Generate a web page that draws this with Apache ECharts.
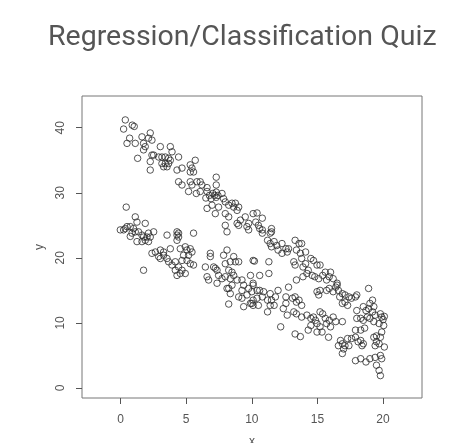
<!DOCTYPE html>
<html><head><meta charset="utf-8">
<script src="https://cdn.jsdelivr.net/npm/echarts@6/dist/echarts.min.js"></script>
<style>html,body{margin:0;padding:0;background:#fff}#c{width:453px;height:443px}</style>
</head><body><div id="c"></div>
<script>
const titleText = 'Regression/Classification Quiz';
const xName = 'x';
const yName = 'y';
const xTicks = [0, 5, 10, 15, 20];
const yTicks = [0, 10, 20, 30, 40];
const upperBand = [
[0.36,41.2],[0.23,39.8],[0.89,40.4],[1.04,40.2],[0.69,38.4],[0.49,37.6],[1.12,37.6],[1.63,38.6],[1.75,37.6],[1.88,37.1],[1.75,36.6],[2.26,39.2],[2.39,38.1],[2.13,38.4],[1.3,35.3],[2.39,35.8],[2.52,35.8],[2.26,34.8],[2.26,33.5],[3.03,37.1],[2.9,35.5],[3.15,35.5],[3.41,35.5],[3.15,34.5],[3.41,34.5],[3.66,34.5],[3.28,34.0],[3.54,34.0],[3.79,37.1],[3.92,36.3],[3.66,35.3],[3.79,35.0],[4.42,35.5],[4.3,33.5],[4.68,33.8],[5.31,34.3],[5.69,35.0],[5.44,33.8],[5.56,33.2],[5.31,33.2],[4.42,31.7],[4.68,31.2],[5.31,31.7],[5.44,31.2],[5.18,30.2],[5.82,31.7],[6.07,31.7],[6.2,31.2],[5.77,29.9],[6.07,30.2],[6.59,30.8],[6.59,30.2],[7.29,32.4],[7.29,31.2],[6.5,29.2],[6.77,29.6],[7.03,29.9],[7.16,29.6],[7.29,30.1],[7.42,29.6],[6.9,29.1],[7.29,29.3],[6.59,27.6],[6.97,28.1],[7.47,27.8],[7.73,29.9],[7.85,29.1],[7.98,28.6],[7.22,26.8],[8.24,28.1],[8.49,28.4],[8.62,27.8],[8.75,28.4],[9.0,27.8],[8.88,27.3],[7.98,26.8],[8.24,26.3],[7.98,25.0],[8.11,24.0],[8.88,25.3],[9.0,25.0],[9.13,25.8],[9.5,26.3],[9.63,24.8],[9.76,24.3],[9.76,25.3],[10.1,26.8],[10.3,25.5],
[10.4,26.9],[10.8,26.1],[10.5,25.0],[10.6,24.5],[10.8,24.3],[10.8,23.8],[11.5,24.5],[11.5,24.0],[11.4,23.8],[11.2,22.7],[11.4,22.2],[11.7,22.5],[11.9,21.9],[11.5,21.7],[12.0,21.2],[12.3,22.2],[12.6,21.4],[12.7,20.9],[12.3,20.7],[12.8,21.4],[13.3,22.7],[13.6,22.2],[13.8,22.2],[13.4,21.2],[13.7,20.7],[14.1,20.9],[13.2,19.4],[13.3,18.9],[13.8,19.9],[13.9,18.6],[14.1,19.1],[14.5,19.9],[14.7,19.6],[14.97,18.9],[15.2,18.9],[14.2,17.6],[14.3,18.1],[13.4,16.6],[13.9,17.1],[14.6,17.3],[14.8,17.1],[15.1,16.8],[15.4,17.3],[15.6,17.8],[16.0,17.8],[15.9,17.1],[15.7,16.6],[16.2,16.8],[16.5,16.1],[16.4,15.5],[14.97,14.8],[15.1,14.3],[15.2,15.0],[15.7,15.0],[15.9,15.3],[16.2,14.8],[16.5,15.8],[16.6,15.0],[16.9,14.5],[17.1,14.3],[17.4,14.0],[17.6,13.8],[17.9,14.0],[18.0,14.3],[16.7,14.0],[17.1,13.2],[16.9,13.0],[17.3,12.7],[18.9,15.3],[19.2,13.5],[19.0,13.0],[19.3,12.5],[18.9,12.2],[19.2,11.7],[19.4,11.2],[19.8,11.4],[19.9,10.9],[18.5,12.5],[18.7,11.9],[18.0,11.9],[18.0,10.7],[18.3,10.7],[18.5,10.4],[18.8,10.9],[19.0,10.7],[19.3,10.2],[19.7,9.9],[20.05,9.6],[20.1,11.0],[20.0,10.5]
];
const lowerBand = [
[0.43,27.8],[1.12,26.3],[1.25,25.5],[1.88,25.3],[0.49,24.8],[0.74,24.8],[0.36,24.5],[-0.02,24.3],[0.23,24.3],[0.99,24.5],[1.12,24.0],[0.87,23.8],[0.74,23.3],[1.37,24.0],[1.63,23.5],[1.75,23.2],[2.01,23.2],[2.26,23.2],[2.13,23.8],[2.52,24.0],[3.54,23.5],[4.3,23.5],[4.42,23.8],[4.3,22.7],[5.56,23.8],[1.25,22.5],[1.63,22.5],[1.88,22.7],[2.13,22.5],
[1.75,18.1],[2.39,20.7],[2.65,20.9],[3.03,21.2],[3.28,20.9],[3.28,20.4],[2.9,20.2],[3.03,19.9],[3.79,21.4],[3.54,19.9],[3.66,19.4],[3.92,18.9],[4.17,18.1],[4.3,17.3],[4.55,17.6],[4.68,18.1],[4.93,17.6],[4.42,18.6],[4.17,19.4],[4.55,21.4],[4.93,21.7],[5.06,21.2],[5.31,21.4],[5.44,20.9],[5.18,20.4],[4.8,20.4],[4.68,19.6],[5.06,19.6],[5.31,19.1],[5.56,18.9],[4.3,24.0],[4.42,23.2],
[6.46,18.6],[6.59,17.1],[6.71,16.6],[6.84,20.7],[6.84,20.2],[7.09,18.6],[7.35,18.1],[7.47,17.3],[7.22,18.4],[7.35,16.1],[7.73,16.8],[7.98,17.1],[7.85,20.4],[8.11,21.2],[7.98,19.1],[8.36,19.4],[8.62,20.2],[8.75,19.4],[9.0,19.4],[8.49,17.8],[8.24,18.1],[8.36,16.8],[8.62,17.3],[8.88,16.6],[8.49,15.8],[8.24,15.3],[8.36,14.5],[8.11,15.3],[9.25,16.6],[9.38,15.8],[9.25,15.0],[9.0,14.0],[9.25,13.8],[9.63,14.3],[9.76,15.3],[9.38,12.5],[8.24,12.9],[10.1,16.1],[10.1,13.5],[10.0,13.0],[10.1,19.6],
[10.2,19.5],[11.3,19.4],[9.9,17.3],[10.6,17.3],[11.3,17.6],[10.1,15.8],
[10.0,14.8],[10.4,15.0],[10.6,15.0],[10.9,14.8],[10.8,14.0],[10.4,13.8],[9.89,13.0],[10.1,12.7],[10.5,12.7],[11.4,14.5],[11.2,13.5],[11.5,13.5],[11.8,14.0],[12.0,15.0],[11.4,12.7],[11.7,12.7],[11.2,11.7],[12.6,14.0],[12.6,13.0],[12.4,12.2],[12.8,15.5],[13.1,13.8],[13.3,14.0],[13.4,13.2],[13.6,13.5],[13.8,12.7],
[12.7,11.2],[13.2,11.7],[13.4,11.4],[13.8,10.9],[14.2,11.2],[14.5,10.7],[14.7,10.9],[14.85,10.4],[15.2,11.7],[15.4,11.4],[15.6,10.7],[15.9,10.4],[16.2,10.9],[16.4,10.2],[16.9,10.2],[12.2,9.4],[14.5,9.6],[14.97,9.9],[15.2,9.4],[16.0,9.4],[15.7,9.9],
[13.3,8.3],[13.7,7.9],[14.3,8.9],[14.97,8.6],[15.35,8.6],[15.85,7.8],
[16.76,7.3],[16.9,6.8],[17.1,6.5],[16.6,6.5],[17.0,6.0],[17.4,6.5],[17.3,7.6],[17.6,7.6],[17.9,7.8],[16.9,5.3],[18.1,7.1],[18.3,7.3],[18.5,6.8],[18.4,6.5],[17.9,4.2],[18.3,4.5],[18.7,4.0],[19.0,4.5],[19.4,4.7],[19.8,5.0],[19.9,4.5],[19.3,7.8],[19.5,8.0],[19.8,7.8],[19.9,8.6],[19.7,6.8],[20.1,6.3],[19.4,6.5],[19.5,7.1],[19.5,3.5],[19.7,2.7],[19.8,1.9],
[17.9,8.9],[18.3,8.9],[18.6,9.2]
];

const chart = echarts.init(document.getElementById('c'), null, {renderer: 'canvas'});
const inkColor = '#555';
const pointStyle = {color: 'rgba(0,0,0,0)', borderColor: '#2a2a2a', borderWidth: 1};
chart.setOption({
  animation: false,
  backgroundColor: '#fff',
  title: {
    text: titleText, left: 43, top: 18,
    textStyle: {fontFamily: 'Roboto', fontWeight: 'normal', fontSize: 28.5, color: '#555'}
  },
  grid: {left: 82, right: 31, top: 96, bottom: 45, show: true, borderColor: '#777', borderWidth: 1,
         backgroundColor: 'transparent', containLabel: false, outerBoundsMode: 'none'},
  xAxis: {
    type: 'value', min: -2.94, max: 22.97,
    name: xName, nameLocation: 'middle', nameGap: 38,
    nameTextStyle: {fontFamily: 'Liberation Sans', fontSize: 12, color: inkColor},
    axisLine: {show: false, onZero: false},
    splitLine: {show: false},
    axisTick: {show: true, length: 6, lineStyle: {color: inkColor}, customValues: xTicks},
    axisLabel: {customValues: xTicks, margin: 16, color: inkColor, fontSize: 12, fontFamily: 'Liberation Sans'}
  },
  yAxis: {
    type: 'value', min: -1.54, max: 44.88,
    name: yName, nameLocation: 'middle', nameGap: 36, nameRotate: 90,
    nameTextStyle: {fontFamily: 'Liberation Sans', fontSize: 12, color: inkColor},
    axisLine: {show: false, onZero: false},
    splitLine: {show: false},
    axisTick: {show: true, length: 6, lineStyle: {color: inkColor}, customValues: yTicks},
    axisLabel: {customValues: yTicks, margin: 15, rotate: 90, color: inkColor, fontSize: 12, fontFamily: 'Liberation Sans'}
  },
  series: [
    {type: 'scatter', data: upperBand, symbol: 'circle', symbolSize: 6.5, itemStyle: pointStyle, silent: true},
    {type: 'scatter', data: lowerBand, symbol: 'circle', symbolSize: 6.5, itemStyle: pointStyle, silent: true}
  ]
});
</script>
</body></html>
